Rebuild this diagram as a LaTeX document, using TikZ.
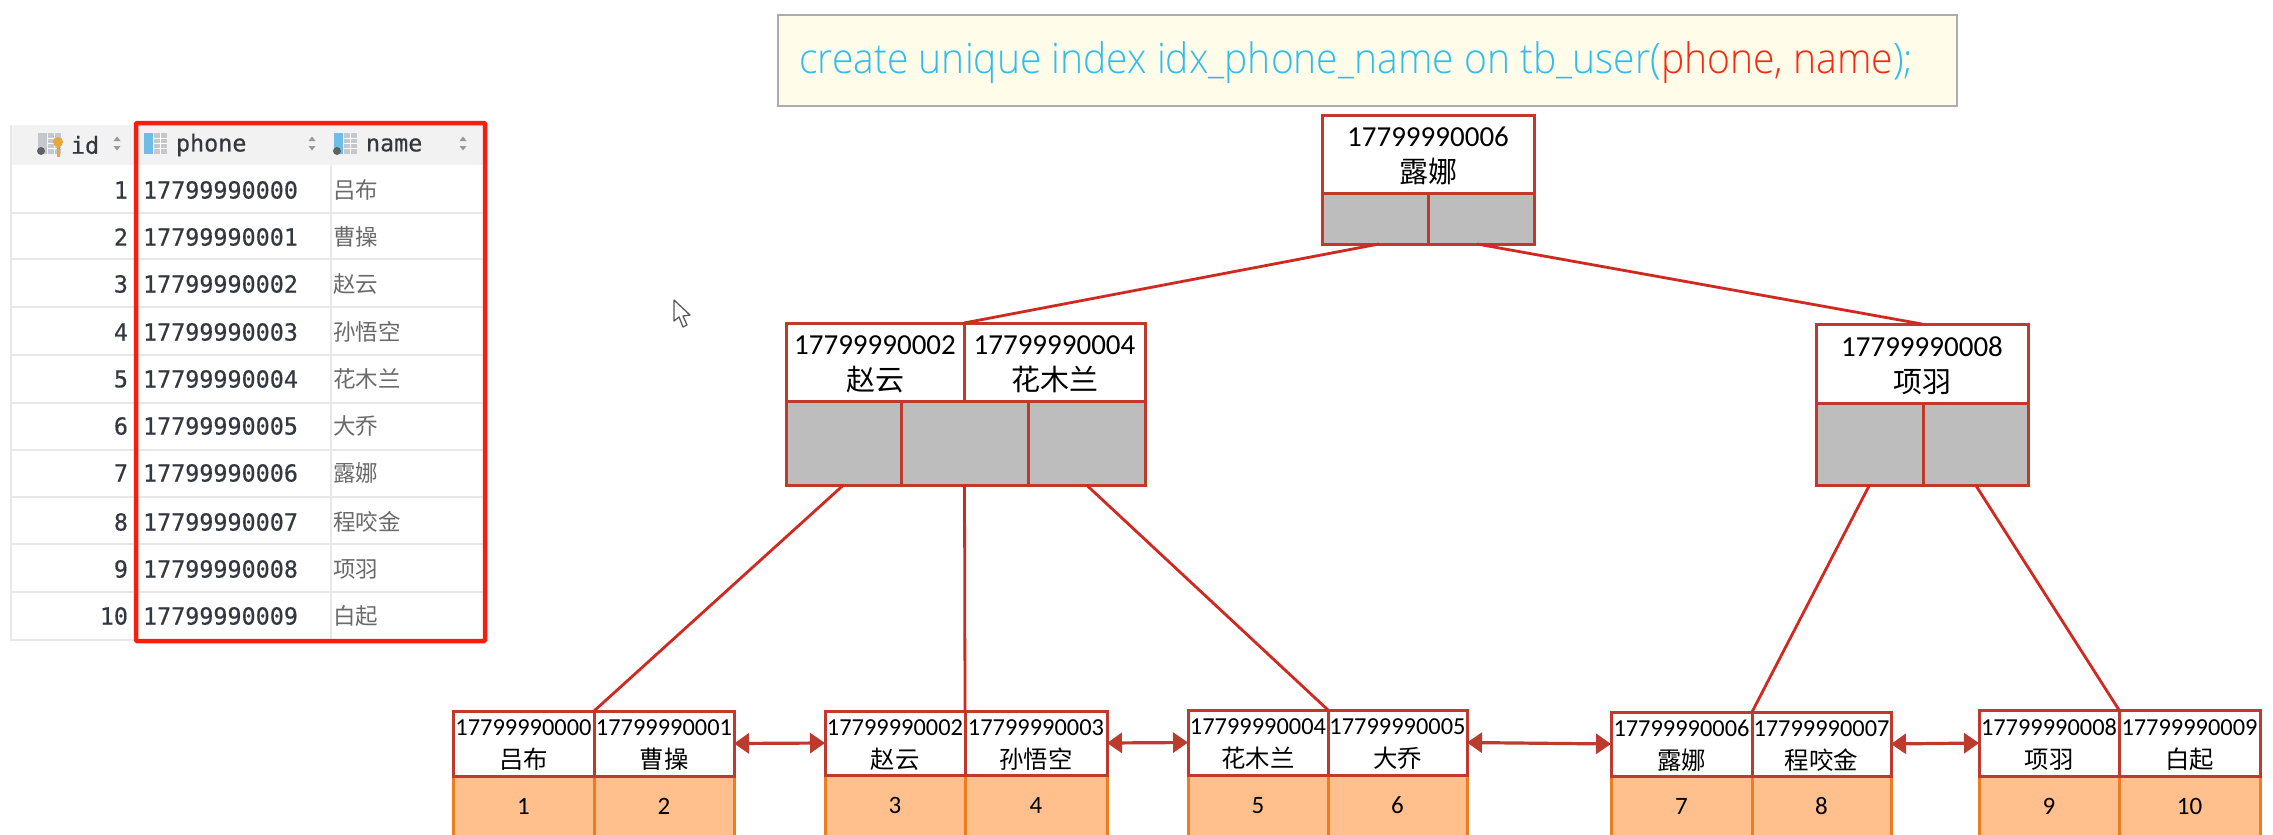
\documentclass[tikz,border=0pt]{standalone}
\usepackage{fontspec}
\setmainfont{Carlito}
\newfontfamily\cjkf{Noto Sans CJK SC}
\newfontfamily\monof{DejaVu Sans Mono}[RawFeature={embolden=0.5}]
\newfontfamily\sqlf{Open Sans}[UprightFont=* Light]
\definecolor{nodeline}{HTML}{BF392D}
\definecolor{edgeline}{HTML}{D02A20}
\definecolor{arrowline}{HTML}{BC3A2E}
\definecolor{ptrfill}{HTML}{BDBDBD}
\definecolor{datafill}{HTML}{FFC08E}
\definecolor{dataline}{HTML}{EE7D22}
\definecolor{sqlblue}{HTML}{2FBDEE}
\definecolor{sqlred}{HTML}{FA2A12}
\definecolor{sqlfill}{HTML}{FFFDE9}
\definecolor{tablehead}{HTML}{F2F2F2}
\definecolor{tablegrid}{HTML}{E8E8E8}
\definecolor{monotext}{HTML}{33383F}
\definecolor{cjktext}{HTML}{6A6A6A}
\definecolor{iconblue}{HTML}{6FBCE4}
\definecolor{icongrey}{HTML}{C4C8CC}
\definecolor{icondark}{HTML}{5E6266}
\definecolor{icongold}{HTML}{E8A63A}
\definecolor{tablered}{HTML}{F71E0E}
\usetikzlibrary{arrows.meta}
\tikzset{
  cellbase/.style={rectangle,inner sep=0pt,outer sep=0pt,align=center,line width=3pt},
  keycell/.style={cellbase,draw=nodeline,fill=white,text=black},
  ptrcell/.style={cellbase,draw=nodeline,fill=ptrfill},
  datacell/.style={cellbase,draw=dataline,fill=datafill,text=black,font=\fontsize{25}{28}\selectfont},
  bigtext/.style={font=\fontsize{29}{36}\selectfont},
  smalltext/.style={font=\fontsize{24.4}{33}\selectfont},
  treeedge/.style={draw=edgeline,line width=2.8pt},
  leaflink/.style={draw=arrowline,line width=3.2pt,{Triangle[length=15pt,width=20pt]}-{Triangle[length=15pt,width=20pt]}},
  monotxt/.style={font=\fontsize{23.4}{26}\monof,text=monotext,inner sep=0pt,outer sep=0pt},
  cjktxt/.style={font=\fontsize{22.5}{26}\cjkf,text=cjktext,inner sep=0pt,outer sep=0pt,anchor=west},
}
% #1 style, #2 name, #3 x1, #4 y1, #5 x2, #6 y2, #7 text
\newcommand{\cellat}[7]{%
  \pgfmathsetmacro{\cw}{#5-#3}\pgfmathsetmacro{\ch}{#6-#4}%
  \pgfmathsetmacro{\cx}{(#3+#5)/2}\pgfmathsetmacro{\cy}{(#4+#6)/2}%
  \node[#1,minimum width=\cw pt,minimum height=\ch pt] (#2) at (\cx,\cy) {#7};}
\newcommand{\kv}[2]{\raisebox{-2pt}[\height][\depth]{#1}\\\raisebox{-2pt}[\height][\depth]{\cjkf #2}}
% Table row: #1 y, #2 id, #3 phone, #4 name
\newcommand{\tablerow}[4]{%
  \node[monotxt,anchor=east] (id#2) at (128,#1) {#2};
  \node[monotxt,anchor=west] (ph#2) at (143,#1) {#3};
  \node[cjktxt] (nm#2) at (333,#1) {#4};}
\newcommand{\sortmark}[1]{%
  \fill[gray!80] (#1-3.5,141) -- (#1+3.5,141) -- (#1,136.5) -- cycle;
  \fill[gray!80] (#1-3.5,146) -- (#1+3.5,146) -- (#1,150.5) -- cycle;}
\newcommand{\colicon}[2]{%
  \fill[#2] (#1,133) rectangle (#1+9,154);
  \fill[icongrey] (#1+10,133) rectangle (#1+23,154);
  \foreach \yy in {138,143,148}{\draw[white,line width=1pt] (#1+10,\yy) -- (#1+23,\yy);}
  \draw[white,line width=1pt] (#1+16,133) -- (#1+16,154);}
\begin{document}
\begin{tikzpicture}[x=1pt,y=-1pt]
\useasboundingbox (0,0) rectangle (2273,835);
\clip (0,0) rectangle (2273,835);
\fill[white] (0,0) rectangle (2273,835);

% ---- left table
\fill[tablehead] (10,125) rectangle (484,165);
\draw[tablegrid,line width=1.5pt] (11,125) -- (11,640) -- (484,640);
\foreach \yy in {213,259,307,355,403,450,497,544,592}{\draw[tablegrid,line width=1.5pt] (12,\yy) -- (484,\yy);}
\draw[tablegrid,line width=1.2pt] (331,165) -- (331,640);
\node[monotxt,anchor=west] (hid) at (71,145) {id};
\node[monotxt,anchor=west] (hphone) at (176,145) {phone};
\node[monotxt,anchor=west] (hname) at (366,145) {name};
\sortmark{117}\sortmark{312}\sortmark{463}
\colicon{38}{icongrey}
\colicon{144}{iconblue}
\colicon{334}{iconblue}
\fill[icondark] (41,151) circle (4);
\fill[icondark] (337,151) circle (4);
\fill[icongold] (58,142) circle (5);
\fill[icongold] (56.5,145) rectangle (60,157);
\tablerow{190}{1}{17799990000}{吕布}
\tablerow{237}{2}{17799990001}{曹操}
\tablerow{284}{3}{17799990002}{赵云}
\tablerow{332}{4}{17799990003}{孙悟空}
\tablerow{379}{5}{17799990004}{花木兰}
\tablerow{426}{6}{17799990005}{大乔}
\tablerow{473}{7}{17799990006}{露娜}
\tablerow{522}{8}{17799990007}{程咬金}
\tablerow{569}{9}{17799990008}{项羽}
\tablerow{616}{10}{17799990009}{白起}
\draw[tablered,line width=4.5pt,rounded corners=1pt] (136,123) rectangle (485,641);

% ---- mouse pointer
\draw[gray!70!black,line width=1.3pt,fill=white,line join=round] (674,300) -- (674,321) -- (679,317) -- (683,327) -- (687,325) -- (683,316) -- (690,315) -- cycle;

% ---- statement
\node[rectangle,draw=gray!65,line width=1.5pt,fill=sqlfill,minimum width=1179pt,minimum height=91pt,inner sep=0pt] (sqlbox) at (1367.5,60.5) {};
\node[anchor=west,inner sep=0pt,xscale=.93,font=\fontsize{42}{46}\sqlf,text=sqlblue] (sqltext) at (799,63) {create unique index idx\_phone\_name on tb\_user({\color{sqlred}phone, name});};

% ---- root
\cellat{keycell,bigtext}{rk}{1322}{115}{1534}{193}{\kv{17799990006}{露娜}}
\cellat{ptrcell}{rp1}{1322}{193}{1428}{244}{}
\cellat{ptrcell}{rp2}{1428}{193}{1534}{244}{}

% ---- internal left
\cellat{keycell,bigtext}{ma}{786}{323}{964}{401}{\kv{17799990002}{赵云}}
\cellat{keycell,bigtext}{mb}{964}{323}{1145}{401}{\kv{17799990004}{花木兰}}
\cellat{ptrcell}{mp1}{786}{401}{901}{485}{}
\cellat{ptrcell}{mp2}{901}{401}{1028}{485}{}
\cellat{ptrcell}{mp3}{1028}{401}{1145}{485}{}

% ---- internal right
\cellat{keycell,bigtext}{nk}{1816}{324}{2028}{403}{\kv{17799990008}{项羽}}
\cellat{ptrcell}{np1}{1816}{403}{1923}{485}{}
\cellat{ptrcell}{np2}{1923}{403}{2028}{485}{}

% ---- leaves
\cellat{datacell}{d1}{453}{776}{594}{860}{\raisebox{24pt}{1}}
\cellat{datacell}{d2}{594}{776}{734}{860}{\raisebox{24pt}{2}}
\cellat{datacell}{d3}{825}{775}{965}{860}{\raisebox{24pt}{3}}
\cellat{datacell}{d4}{965}{775}{1107}{860}{\raisebox{24pt}{4}}
\cellat{datacell}{d5}{1188}{775}{1328}{860}{\raisebox{24pt}{5}}
\cellat{datacell}{d6}{1328}{775}{1467}{860}{\raisebox{24pt}{6}}
\cellat{datacell}{d7}{1611}{776}{1752}{860}{\raisebox{24pt}{7}}
\cellat{datacell}{d8}{1752}{776}{1891}{860}{\raisebox{24pt}{8}}
\cellat{datacell}{d9}{1979}{776}{2119}{860}{\raisebox{24pt}{9}}
\cellat{datacell}{d10}{2119}{776}{2260}{860}{\raisebox{24pt}{10}}
\cellat{keycell,smalltext}{l1}{453}{711}{594}{776}{\kv{17799990000}{吕布}}
\cellat{keycell,smalltext}{l2}{594}{711}{734}{776}{\kv{17799990001}{曹操}}
\cellat{keycell,smalltext}{l3}{825}{711}{965}{775}{\kv{17799990002}{赵云}}
\cellat{keycell,smalltext}{l4}{965}{711}{1107}{775}{\kv{17799990003}{孙悟空}}
\cellat{keycell,smalltext}{l5}{1188}{710}{1328}{775}{\kv{17799990004}{花木兰}}
\cellat{keycell,smalltext}{l6}{1328}{710}{1467}{775}{\kv{17799990005}{大乔}}
\cellat{keycell,smalltext}{l7}{1611}{712}{1752}{776}{\kv{17799990006}{露娜}}
\cellat{keycell,smalltext}{l8}{1752}{712}{1891}{776}{\kv{17799990007}{程咬金}}
\cellat{keycell,smalltext}{l9}{1979}{710}{2119}{776}{\kv{17799990008}{项羽}}
\cellat{keycell,smalltext}{l10}{2119}{710}{2260}{776}{\kv{17799990009}{白起}}

% ---- tree edges
\draw[treeedge] ([xshift=4pt]rp1.south) -- (ma.north east);
\draw[treeedge] ([xshift=-4pt]rp2.south) -- (nk.north);
\draw[treeedge] (mp1.south) -- (l1.north east);
\draw[treeedge] (mp2.south) -- (l3.north east);
\draw[treeedge] (mp3.south) -- (l5.north east);
\draw[treeedge] (np1.south) -- (l7.north east);
\draw[treeedge] (np2.south) -- (l9.north east);

% ---- leaf links
\draw[leaflink] (l2.east) -- (l3.west);
\draw[leaflink] (l4.east) -- (l5.west);
\draw[leaflink] (l6.east) -- (l7.west);
\draw[leaflink] (l8.east) -- (l9.west);
\end{tikzpicture}
\end{document}
